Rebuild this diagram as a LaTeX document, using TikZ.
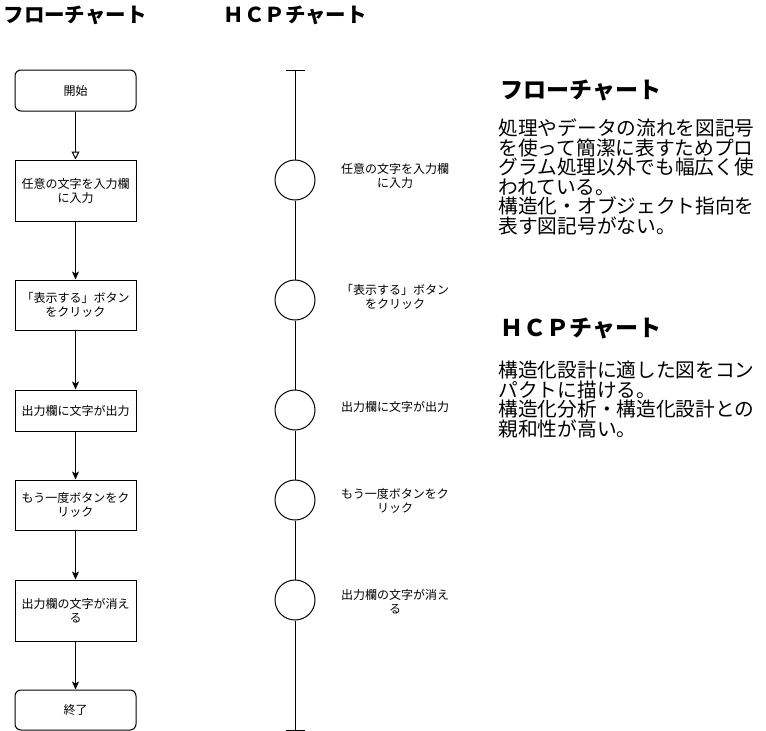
\documentclass[tikz,border=0pt]{standalone}
\usepackage{fontspec}
\setmainfont{Noto Sans CJK JP}
\usetikzlibrary{arrows.meta}
\begin{document}
\begin{tikzpicture}[x=1pt,y=-1pt,line width=1pt,
  small/.style={font=\fontsize{12}{14}\selectfont},
  fbox/.style={draw, small, minimum width=121pt, inner sep=0pt, align=center},
  term/.style={fbox, rounded corners=6pt},
  hcirc/.style={draw, circle, fill=white, minimum size=40pt, inner sep=0pt},
  hlabel/.style={small, align=center},
  arr/.style={-{Stealth[inset=2pt,length=8pt,width=7pt]}},
  openarr/.style={-{Triangle[open,length=8pt,width=8pt]}},
  toptitle/.style={font=\fontsize{20.5}{24}\selectfont\bfseries, anchor=west, inner sep=0pt},
  sidetitle/.style={font=\fontsize{23}{27}\selectfont\bfseries, anchor=west, inner sep=0pt},
  body/.style={font=\fontsize{19.7}{19.6}\selectfont, anchor=west, align=left, inner sep=0pt}
]
\useasboundingbox (0,0) rectangle (766,731);

% titles
\node[toptitle] (t1) at (3,15) {フローチャート};
\node[toptitle] (t2) at (223,15) {ＨＣＰチャート};

% flowchart
\node[term, minimum height=41pt] (start) at (75.5,90.5) {開始};
\node[fbox, minimum height=61pt] (b2) at (75.5,190.5) {任意の文字を入力欄\\に入力};
\node[fbox, minimum height=50pt] (b3) at (75.5,305) {「表示する」ボタン\\をクリック};
\node[fbox, minimum height=41pt] (b4) at (75.5,410.5) {出力欄に文字が出力};
\node[fbox, minimum height=50pt] (b5) at (75.5,505) {もう一度ボタンをク\\リック};
\node[fbox, minimum height=61pt] (b6) at (75.5,610.5) {出力欄の文字が消え\\る};
\node[term, minimum height=40pt] (end) at (75.5,710) {終了};

\draw[openarr] (start) -- (b2);
\draw[arr] (b2) -- (b3);
\draw[arr] (b3) -- (b4);
\draw[arr] (b4) -- (b5);
\draw[arr] (b5) -- (b6);
\draw[arr] (b6) -- (end);

% HCP chart
\coordinate (top) at (295,70);
\coordinate (topL) at (286,70);
\coordinate (topR) at (305,70);
\coordinate (bot) at (295,730);
\coordinate (botL) at (286,730);
\coordinate (botR) at (305,730);
\node[hcirc] (c1) at (295,180) {};
\node[hcirc] (c2) at (295,300) {};
\node[hcirc] (c3) at (295,410) {};
\node[hcirc] (c4) at (295,500) {};
\node[hcirc] (c5) at (295,600) {};
\draw (topL) -- (topR);
\draw (botL) -- (botR);
\draw (top) -- (c1);
\draw (c1) -- (c2);
\draw (c2) -- (c3);
\draw (c3) -- (c4);
\draw (c4) -- (c5);
\draw (c5) -- (bot);

\node[hlabel] (l1) at (395,176) {任意の文字を入力欄\\に入力};
\node[hlabel] (l2) at (395,297) {「表示する」ボタン\\をクリック};
\node[hlabel] (l3) at (395,407) {出力欄に文字が出力};
\node[hlabel] (l4) at (395,501) {もう一度ボタンをク\\リック};
\node[hlabel] (l5) at (395,601.5) {出力欄の文字が消え\\る};

% descriptions
\node[sidetitle] (s1) at (500,90) {フローチャート};
\node[body] (d1) at (498,177) {処理やデータの流れを図記号\\を使って簡潔に表すためプロ\\グラム処理以外でも幅広く使\\われている。\\構造化・オブジェクト指向を\\表す図記号がない。};
\node[sidetitle] (s2) at (500,328) {ＨＣＰチャート};
\node[body] (d2) at (498,399.5) {構造化設計に適した図をコン\\パクトに描ける。\\構造化分析・構造化設計との\\親和性が高い。};
\end{tikzpicture}
\end{document}
